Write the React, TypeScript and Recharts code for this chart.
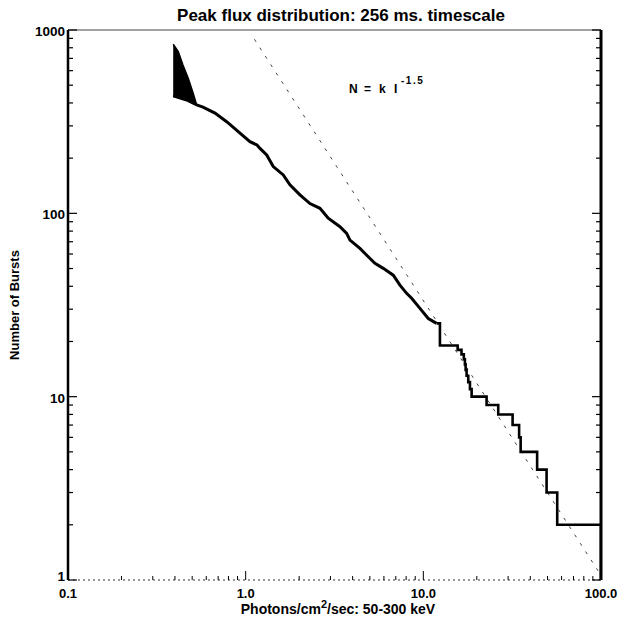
import { ComposedChart, Line, Area, XAxis, YAxis } from "recharts"

// thick wedge at the faint end (cumulative count spread)
const wedgeFlux = [0.391, 0.4175, 0.4437, 0.475, 0.507, 0.53]
const wedgeLow = [438, 431, 424, 412, 400, 390]
const wedgeHigh = [836, 762, 644, 545, 451, 390]

// smooth part of the cumulative distribution
const curveFlux = [
  0.391, 0.4656, 0.53, 0.575, 0.672, 0.785, 0.929, 1.057, 1.158, 1.204, 1.313, 1.43, 1.628, 1.775,
  2.021, 2.301, 2.619, 2.916, 3.394, 3.702, 3.864, 4.398, 4.897, 5.341, 5.948, 6.77, 7.385, 8.054,
  8.596, 9.57, 10.66, 11.88,
]
const curveCounts = [
  438, 415, 390, 380, 352, 315, 274, 246, 236, 226, 208, 180, 162, 143, 126, 113, 106.5, 94, 84.5,
  77.8, 71.5, 64.4, 58, 53.4, 50.1, 46, 40.6, 36.6, 34.4, 30.3, 26.7, 25.1,
]

// bright end, where single bursts show as steps
const stepFlux = [11.88, 12.4, 15.6, 16.4, 16.9, 17.14, 17.3, 17.52, 17.9, 18.3, 18.7, 22.7, 26.4, 31.8, 34.6, 35.3, 43.7, 49.4, 56.7, 100]
const stepCounts = [25.1, 19, 18, 17, 16, 15, 14, 13, 12, 11, 10, 9, 8, 7, 6, 5, 4, 3, 2, 1]

// N = k I^-1.5 reference line
const refFlux = [1.12, 100]
const refCounts = [890, 1.06]

const xMajor = [0.1, 1, 10, 100]
const xMajorLabels = ["0.1", "1.0", "10.0", "100.0"]
const xMinor = [
  0.2, 0.3, 0.4, 0.5, 0.6, 0.7, 0.8, 0.9, 2, 3, 4, 5, 6, 7, 8, 9, 20, 30, 40, 50, 60, 70, 80, 90,
]
const yMajor = [1, 10, 100, 1000]
const yMajorLabels = ["1", "10", "100", "1000"]
const yMinor = [2, 3, 4, 5, 6, 7, 8, 9, 20, 30, 40, 50, 60, 70, 80, 90, 200, 300, 400, 500, 600, 700, 800, 900]

const wedgeData = wedgeFlux.map((f, i) => ({ flux: f, range: [wedgeLow[i], wedgeHigh[i]] }))
const curveData = curveFlux.map((f, i) => ({ flux: f, n: curveCounts[i] }))
const stepData = stepFlux.map((f, i) => ({ flux: f, n: stepCounts[i] }))
const refData = refFlux.map((f, i) => ({ flux: f, n: refCounts[i] }))

const FONT = "'Liberation Sans', Arial, Helvetica, sans-serif"

// tick props: y already sits on the axis line since tickSize and tickMargin are 0
function BottomTick(props: any) {
  const { x, y, payload } = props
  const i = xMajor.indexOf(payload.value)
  return (
    <g>
      <line x1={x} x2={x} y1={y} y2={y - (i >= 0 ? 9 : 4)} stroke="#000" strokeWidth={1} />
      {i >= 0 && (
        <text x={x} y={y + 18} textAnchor="middle" fontFamily={FONT} fontSize={13} fontWeight="bold" fill="#000">
          {xMajorLabels[i]}
        </text>
      )}
    </g>
  )
}

function LeftTick(props: any) {
  const { x, y, payload } = props
  const i = yMajor.indexOf(payload.value)
  // the lowest label sits a little above its tick, like the original
  const dy = payload.value === 1 ? 1 : 6
  return (
    <g>
      <line x1={x} x2={x + (i >= 0 ? 9 : 5)} y1={y} y2={y} stroke="#000" strokeWidth={1.2} />
      {i >= 0 && (
        <text x={x - 3} y={y + dy} textAnchor="end" fontFamily={FONT} fontSize={13.5} fontWeight="bold" fill="#000">
          {yMajorLabels[i]}
        </text>
      )}
    </g>
  )
}

function RightTick(props: any) {
  const { x, y, payload } = props
  const major = yMajor.includes(payload.value)
  return <line x1={x} x2={x - (major ? 9 : 5)} y1={y} y2={y} stroke="#000" strokeWidth={1.2} />
}

export default function App() {
  return (
    <div style={{ position: "absolute", left: 0, top: 0, width: 623, height: 622, background: "#fff" }}>
      <ComposedChart width={623} height={622} margin={{ top: 29, right: 21, bottom: 0, left: 0 }}>
        <XAxis
          dataKey="flux"
          type="number"
          scale="log"
          domain={[0.1, 100]}
          allowDataOverflow
          ticks={[...xMajor, ...xMinor]}
          interval={0}
          height={42}
          tickSize={0}
          tickMargin={0}
          tickLine={false}
          tick={<BottomTick />}
          axisLine={{ stroke: "#333", strokeWidth: 1, strokeDasharray: "2 3" }}
        />
        <XAxis
          xAxisId="top"
          orientation="top"
          dataKey="flux"
          type="number"
          scale="log"
          domain={[0.1, 100]}
          allowDataOverflow
          height={1}
          tick={false}
          tickLine={false}
          axisLine={{ stroke: "#444", strokeWidth: 1 }}
        />
        <YAxis
          type="number"
          scale="log"
          domain={[1, 1000]}
          allowDataOverflow
          ticks={[...yMajor, ...yMinor]}
          interval={0}
          width={68}
          tickSize={0}
          tickMargin={0}
          tickLine={false}
          tick={<LeftTick />}
          axisLine={{ stroke: "#000", strokeWidth: 2.5 }}
        />
        <YAxis
          yAxisId="right"
          orientation="right"
          type="number"
          scale="log"
          domain={[1, 1000]}
          allowDataOverflow
          ticks={[...yMajor, ...yMinor]}
          interval={0}
          width={1}
          tickSize={0}
          tickMargin={0}
          tickLine={false}
          tick={<RightTick />}
          axisLine={{ stroke: "#000", strokeWidth: 3 }}
        />
        <Area
          data={wedgeData}
          dataKey="range"
          type="linear"
          stroke="#000"
          strokeWidth={1.5}
          fill="#000"
          fillOpacity={1}
          isAnimationActive={false}
        />
        <Line
          data={refData}
          dataKey="n"
          type="linear"
          stroke="#444"
          strokeWidth={1}
          strokeDasharray="3 7"
          dot={false}
          isAnimationActive={false}
        />
        <Line
          data={curveData}
          dataKey="n"
          type="linear"
          stroke="#000"
          strokeWidth={3}
          dot={false}
          isAnimationActive={false}
        />
        <Line
          data={stepData}
          dataKey="n"
          type="stepAfter"
          stroke="#000"
          strokeWidth={2.6}
          dot={false}
          isAnimationActive={false}
        />
        <text x={341} y={21} textAnchor="middle" fontFamily={FONT} fontSize={17} fontWeight="bold" fill="#000">
          Peak flux distribution: 256 ms. timescale
        </text>
        <text y={93} fontFamily={FONT} fontSize={12} fontWeight="bold" fill="#000">
          <tspan x={349}>N</tspan>
          <tspan x={364}>=</tspan>
          <tspan x={379}>k</tspan>
          <tspan x={394}>I</tspan>
          <tspan x={401} y={84} fontSize={10} letterSpacing={1.5}>-1.5</tspan>
        </text>
        <text
          x={19}
          y={305}
          textAnchor="middle"
          transform="rotate(-90 19 305)"
          fontFamily={FONT}
          fontSize={13}
          fontWeight="bold"
          fill="#000"
        >
          Number of Bursts
        </text>
        <text x={338} y={614} textAnchor="middle" fontFamily={FONT} fontSize={14} fontWeight="bold" fill="#000">
          Photons/cm
          <tspan dy={-6} fontSize={11}>2</tspan>
          <tspan dy={6}>/sec: 50-300 keV</tspan>
        </text>
      </ComposedChart>
    </div>
  )
}
